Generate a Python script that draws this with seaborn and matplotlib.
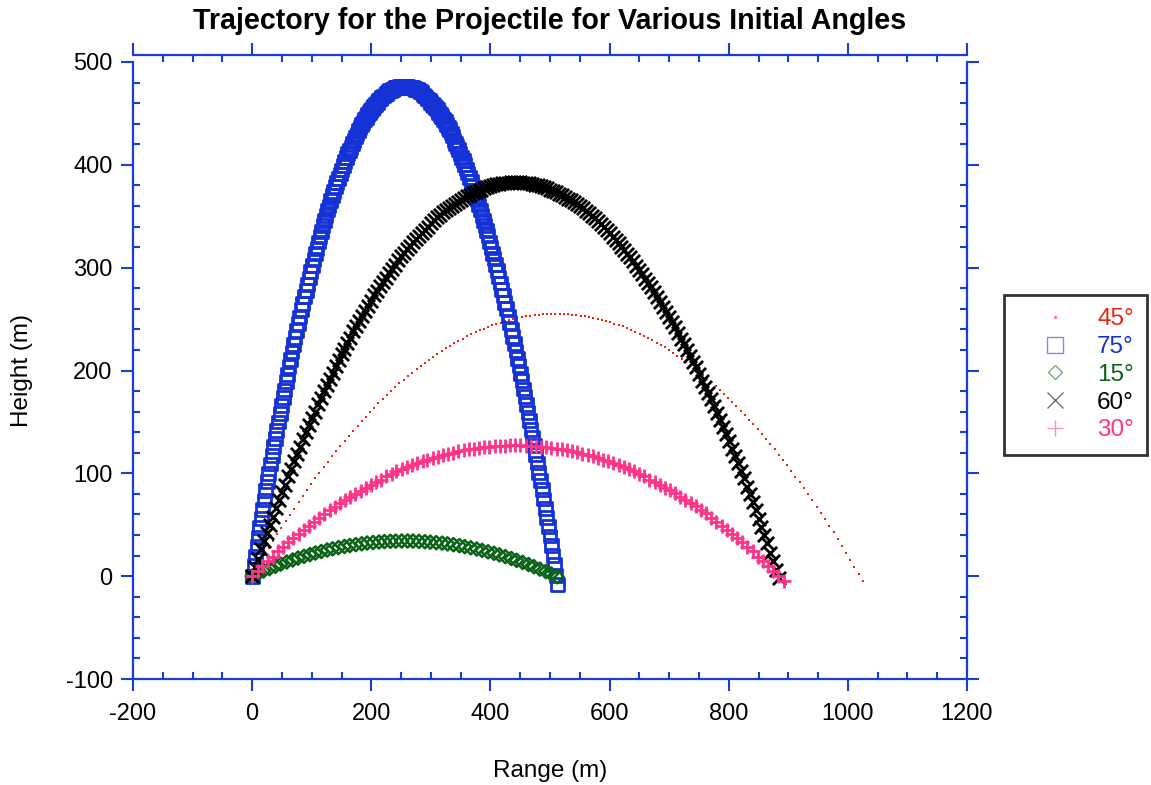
import matplotlib
matplotlib.use("Agg")
import matplotlib.pyplot as plt
from matplotlib.lines import Line2D
from matplotlib.ticker import MultipleLocator
import seaborn as sns

# ---------------- data ----------------
angle_labels = ["45°", "75°", "15°", "60°", "30°"]
x_ticks = [-200, 0, 200, 400, 600, 800, 1000, 1200]
y_ticks = [-100, 0, 100, 200, 300, 400, 500]

x45 = [0,7,14,21,28,35,42,49,57,64,71,78,85,92,99,106,113,120,127,134,141,148,156,163,170,177,184,191,198,205,
       212,219,226,233,240,247,255,262,269,276,283,290,297,304,311,318,325,332,339,346,354,361,368,375,382,389,396,
       403,410,417,424,431,438,445,453,460,467,474,481,488,495,502,509,516,523,530,537,544,552,559,566,573,580,587,
       594,601,608,615,622,629,636,643,651,658,665,672,679,686,693,700,707,714,721,728,735,742,750,757,764,771,778,
       785,792,799,806,813,820,827,834,841,849,856,863,870,877,884,891,898,905,912,919,926,933,940,948,955,962,969,
       976,983,990,997,1004,1011,1018,1025]
y45 = [0,7.0,13.9,20.8,27.5,34.1,40.7,47.1,53.4,59.7,65.8,71.9,77.8,83.6,89.4,95.0,100.6,106.0,111.4,116.7,
       121.8,126.9,131.8,136.7,141.5,146.2,150.7,155.2,159.6,163.9,168.0,172.1,176.1,180.0,183.8,187.5,191.1,194.5,
       197.9,201.2,204.4,207.5,210.5,213.5,216.3,219.0,221.6,224.1,226.5,228.8,231.1,233.2,235.2,237.1,239.0,240.7,
       242.3,243.9,245.3,246.6,247.9,249.0,250.1,251.0,251.8,252.6,253.2,253.8,254.3,254.6,254.9,255.0,255.1,255.1,
       254.9,254.7,254.4,254.0,253.4,252.8,252.1,251.3,250.4,249.3,248.2,247.0,245.7,244.3,242.8,241.2,239.5,237.7,
       235.8,233.8,231.7,229.5,227.2,224.9,222.4,219.8,217.1,214.3,211.5,208.5,205.4,202.2,199.0,195.6,192.1,188.6,
       184.9,181.2,177.3,173.3,169.3,165.1,160.9,156.6,152.1,147.6,142.9,138.2,133.4,128.4,123.4,118.3,113.0,107.7,
       102.3,96.8,91.1,85.4,79.6,73.7,67.7,61.6,55.4,49.1,42.7,36.1,29.5,22.9,16.1,9.2,2.2,-4.9]

x75 = [0,3,5,8,10,13,16,18,21,23,26,28,31,34,36,39,41,44,47,49,52,54,57,60,62,65,67,70,72,75,78,80,83,85,88,91,
       93,96,98,101,104,106,109,111,114,116,119,122,124,127,129,132,135,137,140,142,145,148,150,153,155,158,160,
       163,166,168,171,173,176,179,181,184,186,189,192,194,197,199,202,204,207,210,212,215,217,220,223,225,228,
       230,233,236,238,241,243,246,248,251,254,256,259,261,264,267,269,272,274,277,280,282,285,287,290,292,295,
       298,300,303,305,308,311,313,316,318,321,324,326,329,331,334,336,339,342,344,347,349,352,355,357,360,362,
       365,368,370,373,375,378,380,383,386,388,391,393,396,399,401,404,406,409,412,414,417,419,422,424,427,430,
       432,435,437,440,443,445,448,450,453,456,458,461,463,466,468,471,474,476,479,481,484,487,489,492,494,497,
       500,502,505,507,510,512]
y75 = [0,10,19,29,38,47,56,65,74,83,92,100,109,117,126,134,142,150,158,166,174,181,189,196,204,211,218,225,232,
       239,246,252,259,265,272,278,284,290,296,302,308,314,319,325,330,335,341,346,351,356,360,365,370,374,379,
       383,387,391,395,399,403,407,411,414,417,421,424,427,430,433,436,439,441,444,446,449,451,453,455,457,459,
       461,463,464,466,467,468,469,471,472,472,473,474,475,475,475,476,476,476,476,476,476,475,475,475,474,473,
       473,472,471,470,468,467,466,464,463,461,459,458,456,454,451,449,447,444,442,439,436,434,431,428,424,421,
       418,415,411,407,404,400,396,392,388,384,379,375,370,366,361,356,351,346,341,336,331,325,320,314,309,303,
       297,291,285,279,273,266,260,253,247,240,233,226,219,212,205,197,190,182,175,167,159,151,143,135,127,118,
       110,101,93,84,75,66,57,48,39,30,20,11,1,-8]

x15 = [0,10,19,29,39,48,58,68,77,87,97,106,116,126,135,145,155,164,174,184,193,203,213,222,232,241,251,261,270,
       280,290,299,309,319,328,338,348,357,367,377,386,396,406,415,425,435,444,454,464,473,483,493,502,512]
y15 = [0,2.5,5.0,7.3,9.6,11.7,13.8,15.7,17.6,19.3,21.0,22.5,24.0,25.4,26.6,27.8,28.9,29.8,30.7,31.5,32.2,32.7,
       33.2,33.6,33.9,34.1,34.2,34.2,34.1,33.8,33.5,33.1,32.6,32.1,31.4,30.6,29.7,28.7,27.6,26.4,25.1,23.7,22.3,
       20.7,19.0,17.2,15.4,13.4,11.3,9.2,6.9,4.5,2.1,-0.5]

x60 = [0,5,10,15,20,25,30,35,40,45,50,55,60,65,70,75,80,85,90,95,100,105,110,115,120,125,130,135,140,145,150,
       155,160,165,170,175,180,185,190,195,200,205,210,215,220,225,230,235,240,245,250,255,260,265,270,275,280,
       285,290,295,300,305,310,315,320,325,330,335,340,345,350,355,360,365,370,375,380,385,390,395,400,405,410,
       415,420,425,430,435,440,445,450,455,460,465,470,475,480,485,490,495,500,505,510,515,520,525,530,535,540,
       545,550,555,560,565,570,575,580,585,590,595,600,605,610,615,620,625,630,635,640,645,650,655,660,665,670,
       675,680,685,690,695,700,705,710,715,720,725,730,735,740,745,750,755,760,765,770,775,780,785,790,795,800,
       805,810,815,820,825,830,835,840,845,850,855,860,865,870,875,880,885]
y60 = [0,9,17,26,34,42,50,58,66,74,82,89,97,104,112,119,126,133,140,147,154,160,167,173,180,186,192,198,204,
       210,216,221,227,232,238,243,248,253,258,263,268,273,277,282,286,290,295,299,303,307,311,314,318,321,325,
       328,331,334,337,340,343,346,349,351,354,356,358,360,362,364,366,368,370,371,373,374,375,376,377,378,379,
       380,381,381,382,382,382,383,383,383,383,382,382,382,381,380,380,379,378,377,376,375,374,372,371,369,367,
       366,364,362,360,358,355,353,350,348,345,342,340,337,334,330,327,324,320,317,313,310,306,302,298,294,289,
       285,281,276,271,267,262,257,252,247,242,236,231,226,220,214,208,203,197,190,184,178,172,165,159,152,145,
       138,131,124,117,110,102,95,87,80,72,64,56,48,40,32,23,15,6,-2]

x30 = [0,9,17,26,35,43,52,61,69,78,87,95,104,113,121,130,139,147,156,165,173,182,191,199,208,217,225,234,242,
       251,260,268,277,286,294,303,312,320,329,338,346,355,364,372,381,390,398,407,416,424,433,442,450,459,468,
       476,485,494,502,511,520,528,537,546,554,563,572,580,589,598,606,615,624,632,641,650,658,667,676,684,693,
       701,710,719,727,736,745,753,762,771,779,788,797,805,814,823,831,840,849,857,866,875,883,892]
y30 = [0,5,10,15,19,24,28,33,37,41,45,49,53,57,60,64,67,71,74,77,80,83,86,89,92,94,97,99,102,104,106,108,110,
       112,113,115,116,118,119,120,122,123,124,124,125,126,126,127,127,127,128,128,128,127,127,127,126,126,125,
       124,124,123,122,121,119,118,117,115,113,112,110,108,106,104,102,99,97,94,92,89,86,84,81,77,74,71,68,64,
       61,57,53,49,45,41,37,33,28,24,19,15,10,5,0,-5]

# ---------------- style ----------------
RED = "#e8260f"
BLUE = "#1432d6"
GREEN = "#0b6318"
BLACK = "#000000"
PINK = "#ff3388"
AXIS_BLUE = "#1a3be0"

sns.set_style("white")
plt.rcParams["font.family"] = ["Liberation Sans", "DejaVu Sans"]
plt.rcParams["axes.unicode_minus"] = False
plt.rcParams["text.color"] = "black"
plt.rcParams["axes.labelcolor"] = "black"

fig = plt.figure(figsize=(11.51, 7.85), dpi=100)
ax = fig.add_axes([133 / 1151, 1 - 679 / 785, 834 / 1151, 617 / 785])

series = [
    (x45, y45, dict(marker="s", s=3.5, color=RED, linewidth=0)),
    (x75, y75, dict(marker="s", s=85, color=BLUE, facecolor="none", edgecolor=BLUE, linewidth=2.0)),
    (x15, y15, dict(marker="D", s=45, color=GREEN, facecolor="none", edgecolor=GREEN, linewidth=1.8)),
    (x60, y60, dict(marker="x", s=90, color=BLACK, linewidth=2.0)),
    (x30, y30, dict(marker="+", s=100, color=PINK, linewidth=2.0)),
]
for xs, ys, kw in series:
    sns.scatterplot(x=xs, y=ys, ax=ax, legend=False, **kw)

ax.set_xlim(-200, 1200)
ax.set_ylim(-100, 500)
ax.set_xticks(x_ticks)
ax.set_yticks(y_ticks)
ax.set_xticklabels([str(v) for v in x_ticks])
ax.set_yticklabels([str(v) for v in y_ticks])
ax.xaxis.set_minor_locator(MultipleLocator(50))
ax.yaxis.set_minor_locator(MultipleLocator(20))

for sp in ax.spines.values():
    sp.set_visible(True)
    sp.set_color(AXIS_BLUE)
    sp.set_linewidth(1.6)
ax.spines["top"].set_position(("outward", 5))

ax.tick_params(which="both", top=True, right=True, bottom=True, left=True,
               color=AXIS_BLUE, labelcolor="black", width=1.5)
ax.tick_params(which="major", direction="out", length=8.6, labelsize=17)
ax.tick_params(axis="x", which="major", pad=9)
ax.tick_params(axis="y", which="major", pad=6)
ax.tick_params(which="minor", direction="in", length=5)
ax.grid(False)

ax.set_title("Trajectory for the Projectile for Various Initial Angles",
             fontsize=20.6, fontweight="bold", y=(679 - 21) / 617, va="center", pad=0)
ax.set_xlabel("Range (m)", fontsize=17.5, va="center")
ax.xaxis.set_label_coords(0.5, (679 - 771) / 617)
ax.set_ylabel("Height (m)", fontsize=17.5, va="center", ha="center")
ax.yaxis.set_label_coords((22 - 133) / 834, 0.5)

handles = [
    Line2D([], [], ls="", marker="s", ms=1.5, mfc=RED, mec=RED, alpha=0.4),
    Line2D([], [], ls="", marker="s", ms=11, mfc="none", mec=BLUE, mew=1.0, alpha=0.55),
    Line2D([], [], ls="", marker="D", ms=7.5, mfc="none", mec=GREEN, mew=1.0, alpha=0.55),
    Line2D([], [], ls="", marker="x", ms=11, mec=BLACK, mew=1.0, alpha=0.55),
    Line2D([], [], ls="", marker="+", ms=12, mec=PINK, mew=1.0, alpha=0.55),
]
leg = fig.legend(handles, angle_labels, loc="upper left",
                 bbox_to_anchor=(1004 / 1151, 1 - 295 / 785), borderaxespad=0,
                 frameon=True, fancybox=False, edgecolor="black", fontsize=17.5,
                 labelcolor=[RED, BLUE, GREEN, BLACK, PINK],
                 borderpad=0.55, handlelength=3.1, handletextpad=0.18, labelspacing=0.235)
leg.get_frame().set_linewidth(2)

fig.savefig("out.png", dpi=100)
